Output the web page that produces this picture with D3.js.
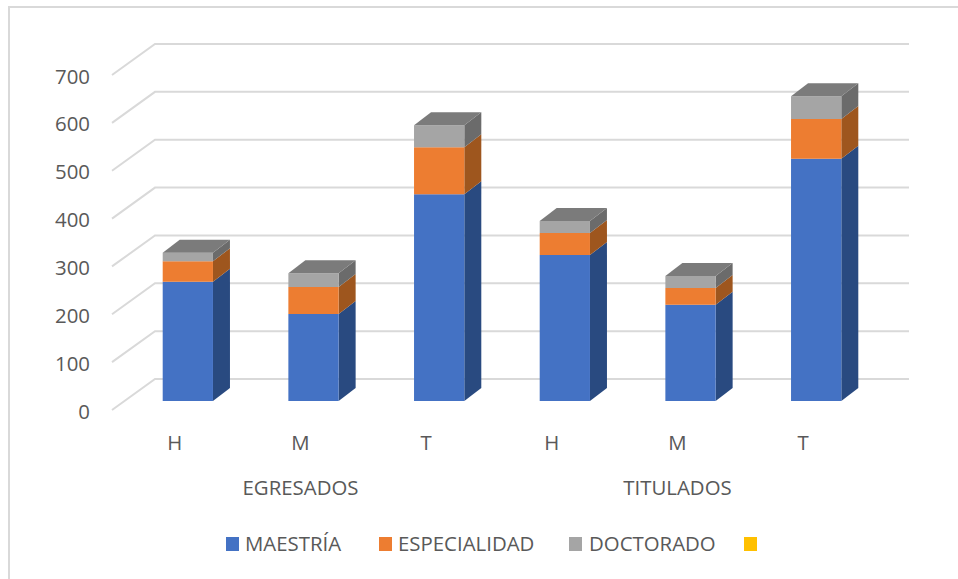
<!DOCTYPE html>
<html><head><meta charset="utf-8">
<script src="https://cdn.jsdelivr.net/npm/d3@7"></script>
<style>html,body{margin:0;padding:0;background:#fff}svg{display:block}text{font-family:"Open Sans",sans-serif;fill:#595959}</style>
</head><body><svg id="c" width="958" height="579"></svg>
<script>
const categories = ["H","M","T","H","M","T"];
const groups = ["EGRESADOS","TITULADOS"];
const seriesNames = ["MAESTRÍA","ESPECIALIDAD","DOCTORADO",""];
const maestria = [249,182,432,305,201,506];
const especialidad = [43,56,98,46,35,83];
const doctorado = [18,29,46,25,25,48];
const extra = [0,0,0,0,0,0];
const yTicks = [0,100,200,300,400,500,600,700];
const colors = ["#4472c4","#ed7d31","#a5a5a5","#ffc000"];
const sideColors = ["#294a80","#9e561e","#6b6b6b","#997300"];
const topColor = "#7b7b7b";

const svg = d3.select("#c");
const W = 958, H = 579;
const plot = {l:112, r:866, front0:410, front700:75};
const wallDx = 43, wallDy = -31;
const barDx = 17, barDy = -13, barInsetX = 13, barInsetY = -9;

const x = d3.scaleBand().domain(d3.range(categories.length)).range([plot.l, plot.r]).paddingInner(0.6).paddingOuter(0.3);
const y = d3.scaleLinear().domain([0,700]).range([plot.front0, plot.front700]);
const labelX = d3.scaleBand().domain(d3.range(categories.length)).range([plot.l, plot.r]);

// frame
svg.append("path").attr("d",`M9 ${H} V7 H${W}`).attr("fill","none").attr("stroke","#d9d9d9").attr("stroke-width",2);

// walls
const grid = svg.append("g").attr("fill","none").attr("stroke","#d9d9d9").attr("stroke-width",2);
yTicks.forEach(t=>{
  const p = d3.path();
  p.moveTo(plot.l, y(t));
  p.lineTo(plot.l+wallDx, y(t)+wallDy);
  p.lineTo(plot.r+wallDx, y(t)+wallDy);
  grid.append("path").attr("d",p.toString());
});

// y labels
svg.append("g").selectAll("text").data(yTicks).join("text")
  .attr("x",90).attr("y",d=>y(d)+8.5).attr("text-anchor","end").attr("font-size",20.4).text(d=>d);

// bars
const rows = categories.map((c,i)=>({i,s0:maestria[i],s1:especialidad[i],s2:doctorado[i],s3:extra[i]}));
const stack = d3.stack().keys(["s0","s1","s2"])(rows);
const bars = svg.append("g");
const poly = (pts,fill)=>bars.append("polygon").attr("points",pts.map(p=>p.join(",")).join(" ")).attr("fill",fill);
const by = v => y(v)+barInsetY;
rows.forEach((r,i)=>{
  const x0 = x(i)+barInsetX, x1 = x0+x.bandwidth();
  stack.forEach((s,k)=>{
    const v0=s[i][0], v1=s[i][1];
    poly([[x1,by(v0)],[x1+barDx,by(v0)+barDy],[x1+barDx,by(v1)+barDy],[x1,by(v1)]],sideColors[k]);
    poly([[x0,by(v0)],[x1,by(v0)],[x1,by(v1)],[x0,by(v1)]],colors[k]);
    if(k===stack.length-1) poly([[x0,by(v1)],[x1,by(v1)],[x1+barDx,by(v1)+barDy],[x0+barDx,by(v1)+barDy]],topColor);
  });
});

// category labels
svg.append("g").selectAll("text").data(categories).join("text")
  .attr("x",(d,i)=>labelX(i)+labelX.bandwidth()/2).attr("y",449.5).attr("text-anchor","middle").attr("font-size",20.4).text(d=>d);
svg.append("g").selectAll("text").data(groups).join("text")
  .attr("x",(d,i)=>labelX(i*3)+labelX.bandwidth()*1.5).attr("y",495).attr("text-anchor","middle").attr("font-size",20.4).text(d=>d);

// legend
const legendX = [226,379,569,744], legendTextX=[245,398,589];
const lg = svg.append("g");
seriesNames.forEach((n,i)=>{
  lg.append("rect").attr("x",legendX[i]).attr("y",537).attr("width",13).attr("height",14).attr("fill",colors[i]);
  if(n) lg.append("text").attr("x",legendTextX[i]).attr("y",551).attr("font-size",20.4).text(n);
});
</script></body></html>
